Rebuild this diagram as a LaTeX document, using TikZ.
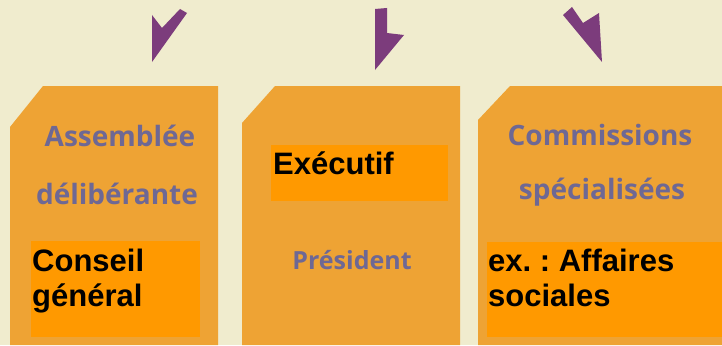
\documentclass[tikz,border=0pt]{standalone}
\usepackage{fontspec}
\setmainfont{Liberation Sans}
\newfontfamily\fadefont{Open Sans}
\frenchspacing
\definecolor{bgcream}{RGB}{240,236,206}
\definecolor{boxorange}{RGB}{238,163,52}
\definecolor{labelorange}{RGB}{255,153,0}
\definecolor{arrowpurple}{RGB}{124,60,124}
\definecolor{fadetext}{RGB}{110,104,148}
\tikzset{
  panel/.style={fill=boxorange, draw=none},
  labelbox/.style={fill=labelorange, draw=none},
  purplearrow/.style={fill=arrowpurple, draw=none},
  fadelabel/.style={font=\fadefont\bfseries\fontsize{28}{30}\selectfont, text=fadetext, anchor=base, inner sep=0pt},
  boldlabel/.style={font=\bfseries\fontsize{31}{35}\selectfont, text=black, anchor=base west, inner sep=0pt},
}
\newcommand{\twolines}[2]{\begin{tabular}[t]{@{}l@{}}#1\\#2\end{tabular}}
\begin{document}
\begin{tikzpicture}[x=1pt,y=-1pt]
\useasboundingbox (0,0) rectangle (722,345);
\fill[bgcream] (0,0) rectangle (722,345);
% panels
\path[panel] (43,86) -- (218,86) -- (218,345) -- (10,345) -- (10,127) -- cycle;
\path[panel] (275,86) -- (460,86) -- (460,345) -- (242,345) -- (242,123) -- cycle;
\path[panel] (510,86) -- (722,86) -- (722,345) -- (478,345) -- (478,120) -- cycle;
% arrows
\path[purplearrow] (152,15) -- (162,28) -- (180,9) -- (187,13) -- (152,62) -- cycle;
\path[purplearrow] (375,9) -- (387,8) -- (387,33) -- (404,35) -- (375,70) -- cycle;
\path[purplearrow] (563,15) -- (572,7) -- (583,23) -- (599,13) -- (602,62) -- cycle;
% faded printed labels
\node[fadelabel] (assemblee) at (120,146) {Assemblée};
\node[fadelabel] (deliberante) at (117,204) {délibérante};
\node[fadelabel, font=\fadefont\bfseries\fontsize{25}{27}\selectfont] (president) at (352,269) {Président};
\node[fadelabel] (commissions) at (600,145) {Commissions};
\node[fadelabel] (specialisees) at (602,199) {spécialisées};
% overlay label boxes
\path[labelbox] (31,241) rectangle (200,337);
\path[labelbox] (271,145) rectangle (448,201);
\path[labelbox] (487,242) rectangle (722,337);
\node[boldlabel] (conseil) at (32,271) {\twolines{Conseil}{général}};
\node[boldlabel] (executif) at (273,174) {Exécutif};
\node[boldlabel] (affaires) at (488,271) {\twolines{ex. : Affaires}{sociales}};
\end{tikzpicture}
\end{document}
